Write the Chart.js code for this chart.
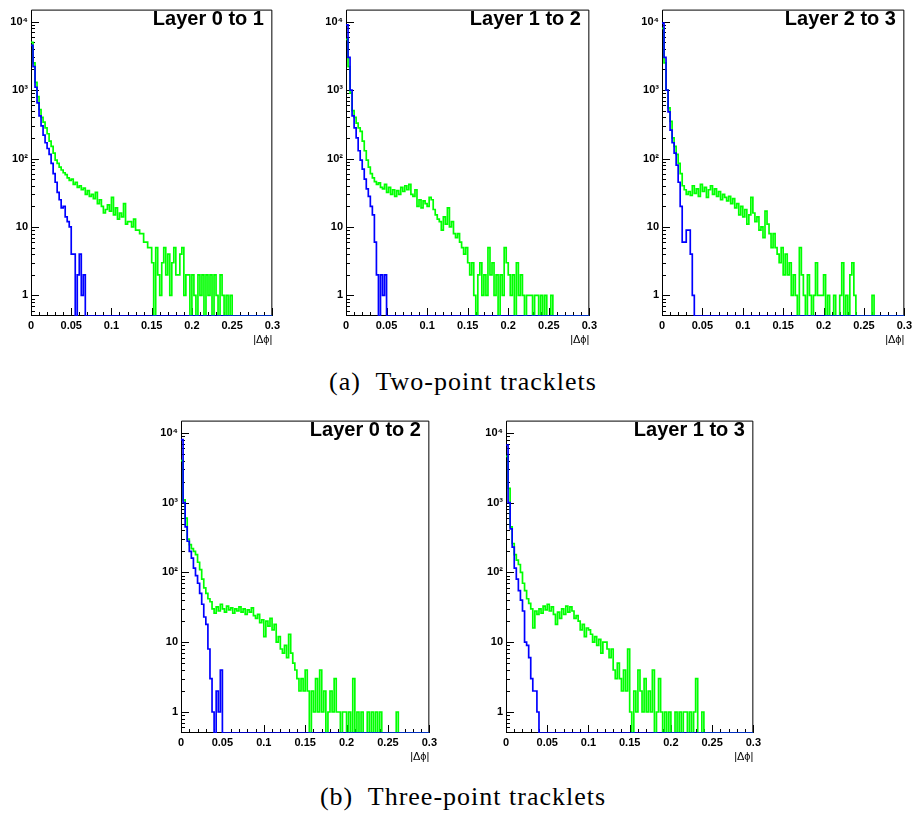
<!DOCTYPE html>
<html><head><meta charset="utf-8">
<script src="https://cdn.jsdelivr.net/npm/chart.js@4.4.0/dist/chart.umd.min.js"></script>
<style>
html,body{margin:0;padding:0;background:#fff;}
#root{position:relative;width:915px;height:813px;overflow:hidden;background:#fff;}
.panel{position:absolute;}
.ptitle{position:absolute;font:bold 20px "Liberation Sans",Arial,sans-serif;color:#000;white-space:nowrap;line-height:20px;}
.caption{position:absolute;font:26px "Liberation Serif","Times New Roman",serif;letter-spacing:1px;color:#000;white-space:nowrap;line-height:28px;transform:translateX(-50%);}
</style></head><body><div id="root"></div>
<script>
// ---------- data (bin counts, bin width 0.0025 from 0 to 0.3) ----------
const BIN_WIDTH = 0.0025;
const X_MIN = 0, X_MAX = 0.3;
const Y_MIN = 0.5, Y_MAX = 15000;
const X_TICK_LABELS = ['0','0.05','0.1','0.15','0.2','0.25','0.3'];
const Y_DECADES = [1,10,100,1000,10000];
const Y_DECADE_LABELS = ['1','10','10\u00B2','10\u00B3','10\u2074'];
const X_TITLE = '|\u0394\u03D5|';
const PANEL_TITLES = ['Layer 0 to 1','Layer 1 to 2','Layer 2 to 3','Layer 0 to 2','Layer 1 to 3'];
const CAPTIONS = ['(a)\u00A0 Two-point tracklets','(b)\u00A0 Three-point tracklets'];

const L01_GREEN = [
5000,2500,1300,800,520,400,340,280,230,180,150,120,95,85,75,68,62,58,52,48,
50,42,45,38,40,35,37,30,34,28,30,26,32,22,25,20,16,18,21,17,
27,15,19,13,16,14,22,11,12,12,10,13,9,9,8,8,6,6,5,5,
3,0,5,2,1,3,5,2,4,1,3,5,2,2,4,5,1,2,2,0,
2,1,0,2,1,2,0,2,1,2,0,2,1,0,2,1,0,1,0,1,
0,0,0,0,0,0,0,0,0,0,0,0,0,0,0,0,0,0,0,0];
const L01_BLUE = [
4500,2200,1100,650,420,300,220,170,140,115,85,60,45,32,25,19,20,14,12,10,
4,4,0,2,4,1,2,0,0,0,0,0,0,0,0,0,0,0,0,0,
0,0,0,0,0,0,0,0,0,0,0,0,0,0,0,0,0,0,0,0,
0,0,0,0,0,0,0,0,0,0,0,0,0,0,0,0,0,0,0,0,
0,0,0,0,0,0,0,0,0,0,0,0,0,0,0,0,0,0,0,0,
0,0,0,0,0,0,0,0,0,0,0,0,0,0,0,0,0,0,0,0];

const L12_GREEN = [
5500,2200,900,500,400,330,280,250,180,130,95,75,60,52,46,42,44,38,36,42,
32,38,30,35,28,34,30,38,33,40,35,42,30,28,35,20,25,19,24,22,
20,27,25,18,15,13,12,9,14,11,19,10,12,8,7,8,6,5,4,5,
3,2,3,1,0,2,3,1,2,1,5,2,3,1,2,0,2,1,5,3,
2,1,2,0,3,1,2,1,0,1,1,1,0,1,1,0,1,0,1,0,
0,1,0,0,0,0,0,0,0,0,0,0,0,0,0,0,0,0,0,0];
const L12_BLUE = [
9000,3000,1000,420,280,200,130,95,70,50,36,28,20,15,6,2,0,2,1,2,
0,0,0,0,0,0,0,0,0,0,0,0,0,0,0,0,0,0,0,0,
0,0,0,0,0,0,0,0,0,0,0,0,0,0,0,0,0,0,0,0,
0,0,0,0,0,0,0,0,0,0,0,0,0,0,0,0,0,0,0,0,
0,0,0,0,0,0,0,0,0,0,0,0,0,0,0,0,0,0,0,0,
0,0,0,0,0,0,0,0,0,0,0,0,0,0,0,0,0,0,0,0];

const L23_GREEN = [
8000,2500,1000,550,350,200,150,115,85,60,40,35,30,33,29,40,31,36,28,42,
33,38,27,35,40,30,36,28,33,25,30,27,24,28,22,26,19,22,15,20,
14,18,11,15,27,16,12,14,9,10,7,17,11,8,5,8,5,4,3,5,
2,4,2,3,1,2,1,0,5,2,1,0,2,1,0,1,3,1,1,1,
2,0,1,0,0,1,0,0,1,3,0,1,0,2,3,1,0,0,0,0,
0,0,0,0,1,0,0,0,0,0,0,0,0,0,0,0,0,0,0,0];
const L23_BLUE = [
9500,3000,1000,480,260,170,120,80,45,20,6,6,9,9,4,1,0,0,0,0,
0,0,0,0,0,0,0,0,0,0,0,0,0,0,0,0,0,0,0,0,
0,0,0,0,0,0,0,0,0,0,0,0,0,0,0,0,0,0,0,0,
0,0,0,0,0,0,0,0,0,0,0,0,0,0,0,0,0,0,0,0,
0,0,0,0,0,0,0,0,0,0,0,0,0,0,0,0,0,0,0,0,
0,0,0,0,0,0,0,0,0,0,0,0,0,0,0,0,0,0,0,0];

const L02_GREEN = [
4000,1100,600,300,250,220,200,180,140,110,80,60,50,42,38,30,26,32,28,35,
30,27,33,29,31,26,30,28,32,27,30,25,29,27,31,24,22,25,19,21,
12,20,17,22,15,18,10,12,8,7,9,6,13,7,5,4,3,2,3,2,
4,2,0,2,1,3,1,4,1,2,0,1,2,1,3,1,1,0,1,1,
0,1,0,3,0,1,0,1,0,0,1,0,1,0,1,0,1,0,0,0,
0,0,0,0,1,0,0,0,0,0,0,0,0,0,0,0,0,0,0,0];
const L02_BLUE = [
8000,1000,450,280,200,160,115,90,70,50,35,23,18,8,3,1,0,2,1,4,
0,0,0,0,0,0,0,0,0,0,0,0,0,0,0,0,0,0,0,0,
0,0,0,0,0,0,0,0,0,0,0,0,0,0,0,0,0,0,0,0,
0,0,0,0,0,0,0,0,0,0,0,0,0,0,0,0,0,0,0,0,
0,0,0,0,0,0,0,0,0,0,0,0,0,0,0,0,0,0,0,0,
0,0,0,0,0,0,0,0,0,0,0,0,0,0,0,0,0,0,0,0];

const L13_GREEN = [
4600,1600,450,260,180,150,130,100,70,55,42,36,30,16,28,25,30,26,33,29,
35,28,32,25,18,27,22,30,25,33,27,32,28,22,24,20,15,18,12,16,
15,13,10,12,9,11,7,10,10,8,6,8,4,3,5,3,2,4,2,8,
1,0,2,1,4,2,1,3,1,2,1,4,0,1,3,1,0,1,0,1,
0,0,1,0,1,0,1,1,0,1,0,1,3,0,0,1,0,0,0,0,
0,0,0,0,0,0,0,0,0,0,0,0,0,0,0,0,0,0,0,0];
const L13_BLUE = [
6700,1000,420,230,115,80,55,40,28,10,9,6,3,2,2,1,0,0,0,0,
0,0,0,0,0,0,0,0,0,0,0,0,0,0,0,0,0,0,0,0,
0,0,0,0,0,0,0,0,0,0,0,0,0,0,0,0,0,0,0,0,
0,0,0,0,0,0,0,0,0,0,0,0,0,0,0,0,0,0,0,0,
0,0,0,0,0,0,0,0,0,0,0,0,0,0,0,0,0,0,0,0,
0,0,0,0,0,0,0,0,0,0,0,0,0,0,0,0,0,0,0,0];

// ---------- layout (plot rectangles in page pixels) ----------
const PANELS = [
  {title: PANEL_TITLES[0], green: L01_GREEN, blue: L01_BLUE, l: 31,  t: 6,   r: 277, b: 316},
  {title: PANEL_TITLES[1], green: L12_GREEN, blue: L12_BLUE, l: 346, t: 6,   r: 594, b: 316},
  {title: PANEL_TITLES[2], green: L23_GREEN, blue: L23_BLUE, l: 662, t: 6,   r: 909, b: 316},
  {title: PANEL_TITLES[3], green: L02_GREEN, blue: L02_BLUE, l: 181, t: 417, r: 434, b: 733},
  {title: PANEL_TITLES[4], green: L13_GREEN, blue: L13_BLUE, l: 506, t: 417, r: 758, b: 733}
];
const CAPTION_POS = [{x: 463, y: 368}, {x: 463, y: 783}];

const Y_AXIS_W = 31, X_AXIS_H = 34, PAD_TOP = 6, PAD_RIGHT = 6;
const TICK_FONT = {family: '"Liberation Sans", Arial, sans-serif', size: 11, weight: 'bold'};

function toSteps(counts) {
  const pts = counts.map((c, i) => ({x: i * BIN_WIDTH, y: c > 0 ? c : Y_MIN}));
  pts.push({x: counts.length * BIN_WIDTH, y: pts[pts.length - 1].y});
  return pts;
}

const frameTicks = {
  id: 'frameTicks',
  beforeDatasetsDraw(chart) {
    const {ctx, chartArea: ca, scales: {x, y}} = chart;
    ctx.save();
    ctx.strokeStyle = '#000';
    ctx.lineWidth = 1;
    ctx.beginPath();
    ctx.rect(ca.left + 0.5, ca.top + 0.5, ca.right - ca.left - 1, ca.bottom - ca.top - 1);
    x.ticks.forEach(t => {
      const px = Math.round(x.getPixelForValue(t.value)) + 0.5;
      const len = t.big ? 8 : 4;
      ctx.moveTo(px, ca.bottom);
      ctx.lineTo(px, ca.bottom - len);
    });
    y.ticks.forEach(t => {
      const py = Math.round(y.getPixelForValue(t.value)) + 0.5;
      const len = t.big ? 8 : 4;
      ctx.moveTo(ca.left, py);
      ctx.lineTo(ca.left + len, py);
    });
    ctx.stroke();
    ctx.restore();
  }
};

const root = document.getElementById('root');

PANELS.forEach(p => {
  const W = p.r - p.l + Y_AXIS_W + PAD_RIGHT;
  const H = p.b - p.t + PAD_TOP + X_AXIS_H;
  const wrap = document.createElement('div');
  wrap.className = 'panel';
  wrap.style.left = (p.l - Y_AXIS_W) + 'px';
  wrap.style.top = (p.t - PAD_TOP) + 'px';
  wrap.style.width = W + 'px';
  wrap.style.height = H + 'px';
  const cv = document.createElement('canvas');
  wrap.appendChild(cv);
  root.appendChild(wrap);

  new Chart(cv, {
    type: 'line',
    data: {datasets: [
      {label: 'green', data: toSteps(p.green), borderColor: '#00ff00', borderWidth: 1.7,
       stepped: 'before', pointRadius: 0, fill: false, order: 1},
      {label: 'blue', data: toSteps(p.blue), borderColor: '#0000ff', borderWidth: 1.7,
       stepped: 'before', pointRadius: 0, fill: false, order: 0}
    ]},
    options: {
      responsive: true, maintainAspectRatio: false, animation: false, devicePixelRatio: 1,
      layout: {padding: {top: PAD_TOP, right: PAD_RIGHT, left: 0, bottom: 0}},
      plugins: {legend: {display: false}, tooltip: {enabled: false}, title: {display: false}},
      scales: {
        x: {
          type: 'linear', min: X_MIN, max: X_MAX,
          grid: {display: false, drawTicks: false}, border: {display: false},
          afterBuildTicks: s => {
            const ticks = [];
            for (let i = 0; i <= 30; i++) ticks.push({value: i * 0.01, big: i % 5 === 0});
            s.ticks = ticks;
          },
          ticks: {autoSkip: false, maxRotation: 0, minRotation: 0, padding: 3, color: '#000', font: TICK_FONT,
            callback: (v, i) => (i % 5 === 0 ? X_TICK_LABELS[i / 5] : '')},
          title: {display: true, text: X_TITLE, align: 'end', color: '#000',
            font: {family: '"Liberation Sans", Arial, sans-serif', size: 11}, padding: {top: 0, bottom: 3}},
          afterFit: s => { s.height = X_AXIS_H; }
        },
        y: {
          type: 'logarithmic', min: Y_MIN, max: Y_MAX,
          grid: {display: false, drawTicks: false}, border: {display: false},
          afterBuildTicks: s => {
            const ticks = [];
            [0.6, 0.7, 0.8, 0.9].forEach(v => ticks.push({value: v, big: false}));
            Y_DECADES.forEach(d => {
              for (let m = 1; m <= 9; m++) {
                const v = d * m;
                if (v <= Y_MAX) ticks.push({value: v, big: m === 1});
              }
            });
            s.ticks = ticks;
          },
          ticks: {autoSkip: false, padding: 3, color: '#000', font: TICK_FONT,
            callback: (v) => {
              const k = Y_DECADES.indexOf(v);
              return k >= 0 ? Y_DECADE_LABELS[k] : '';
            }},
          afterFit: s => { s.width = Y_AXIS_W; }
        }
      }
    },
    plugins: [frameTicks]
  });

  const tt = document.createElement('div');
  tt.className = 'ptitle';
  tt.textContent = p.title;
  tt.style.right = (915 - (p.r - 13)) + 'px';
  tt.style.top = (p.t + 2) + 'px';
  root.appendChild(tt);
});

CAPTIONS.forEach((c, i) => {
  const d = document.createElement('div');
  d.className = 'caption';
  d.textContent = c;
  d.style.left = CAPTION_POS[i].x + 'px';
  d.style.top = CAPTION_POS[i].y + 'px';
  root.appendChild(d);
});
</script></body></html>
